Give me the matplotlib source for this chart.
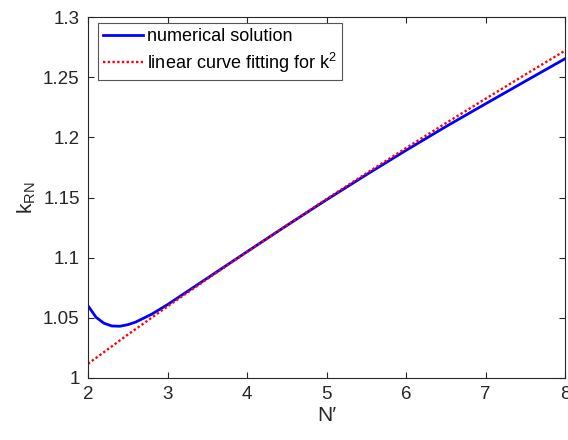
import numpy as np
import matplotlib
matplotlib.use('Agg')
import matplotlib.pyplot as plt
from matplotlib.ticker import FixedLocator, FuncFormatter

# valores
n_num = [2.0, 2.1, 2.2, 2.3, 2.4, 2.5, 2.6, 2.8, 3.0, 3.5, 4.0, 4.5, 5.0, 5.5, 6.0, 6.5, 7.0, 7.5, 8.0]
k_num = [1.060, 1.0505, 1.0455, 1.0432, 1.0430, 1.0443, 1.0465, 1.0530, 1.0610, 1.0830,
         1.1050, 1.1268, 1.1482, 1.1690, 1.1893, 1.2090, 1.2280, 1.2468, 1.2655]

n_fit = [2.0, 2.5, 3.0, 3.5, 4.0, 4.5, 5.0, 5.5, 6.0, 6.5, 7.0, 7.5, 8.0]
k_fit = [1.0118, 1.0360, 1.0595, 1.0824, 1.1048, 1.1270, 1.1488, 1.1702, 1.1912,
         1.2119, 1.2322, 1.2523, 1.2722]

x_ticks = [2, 3, 4, 5, 6, 7, 8]
y_ticks = [1, 1.05, 1.1, 1.15, 1.2, 1.25, 1.3]

plt.rcParams['font.family'] = ['Liberation Sans', 'DejaVu Sans']
plt.rcParams['mathtext.fontset'] = 'custom'
plt.rcParams['mathtext.rm'] = 'Liberation Sans'
plt.rcParams['mathtext.it'] = 'Liberation Sans'

cor_eixo = '#262626'

fig = plt.figure(figsize=(5.68, 4.4), dpi=100)
ax = fig.add_axes([0.155, 0.141, 0.840, 0.820])

ax.plot(n_num, k_num, color='#0000ff', lw=2.0, label='numerical solution')
ax.plot(n_fit, k_fit, color='#ff0000', lw=1.7, ls=(0, (1, 1)), label='linear curve fitting for k$^2$')

ax.set_xlim(2, 8)
ax.set_ylim(1, 1.3)
ax.xaxis.set_major_locator(FixedLocator(x_ticks))
ax.yaxis.set_major_locator(FixedLocator(y_ticks))
ax.yaxis.set_major_formatter(FuncFormatter(lambda v, p: '%g' % v))
ax.tick_params(direction='in', top=True, right=True, length=4, width=0.8,
               labelsize=13.5, colors=cor_eixo, pad=6)
for s in ax.spines.values():
    s.set_color(cor_eixo)
    s.set_linewidth(0.8)

ax.set_xlabel('N\u2032', fontsize=15, color=cor_eixo, labelpad=2)
ax.set_ylabel('k$_{\\rm RN}$', fontsize=15, color=cor_eixo, labelpad=4)

# legenda no canto superior esquerdo
leg = ax.legend(loc='upper left', bbox_to_anchor=(0.021, 0.984), fontsize=13,
                frameon=True, fancybox=False, edgecolor='#555555', framealpha=1,
                borderpad=0.28, handlelength=2.2, handletextpad=0.22,
                labelspacing=0.3, borderaxespad=0)
leg.get_frame().set_linewidth(0.8)

plt.savefig('out.png', dpi=100)
print("Imagem salva")
